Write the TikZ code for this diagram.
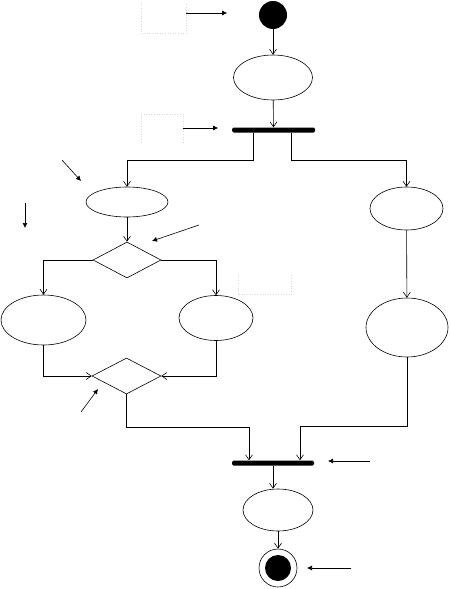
\documentclass[tikz,border=0pt]{standalone}
\usepackage{tikz}
\usetikzlibrary{calc, shapes.geometric, arrows.meta}
\tikzset{
    act/.style={draw, ellipse, line width=0.6pt, inner sep=0pt},
    dec/.style={draw, diamond, line width=0.6pt, inner sep=0pt},
    bar/.style={fill, rectangle, rounded corners=1.5pt, inner sep=0pt, minimum height=5pt},
    flow/.style={line width=0.6pt, -{Straight Barb[length=5pt, width=7pt]}},
    note/.style={line width=0.6pt, -{Latex[length=5pt, width=5pt]}},
    notebox/.style={inner sep=0pt},
    boxline/.style={draw=gray!30, dotted, line width=0.6pt}
}

\begin{document}
\begin{tikzpicture}[x=1pt, y=-1pt]
    \useasboundingbox (0,0) rectangle (450,589);
    % nodes of the activity
    \node[fill, circle, minimum size=28pt, inner sep=0pt] (start) at (273,15) {};
    \node[act, minimum width=79pt, minimum height=45pt] (act1) at (273,77.5) {};
    \node[bar, minimum width=83pt] (fork) at (273.5,130) {};
    \node[act, minimum width=82pt, minimum height=30pt] (act2) at (127,202) {};
    \node[act, minimum width=73pt, minimum height=43pt] (act3) at (406.5,208.5) {};
    \node[dec, minimum width=68pt, minimum height=36pt] (dec1) at (127,260) {};
    \node[act, minimum width=85pt, minimum height=50pt] (act4) at (43.5,320) {};
    \node[act, minimum width=74pt, minimum height=45pt] (act5) at (216,318) {};
    \node[act, minimum width=82pt, minimum height=59pt] (act6) at (407,327.5) {};
    \node[dec, minimum width=69pt, minimum height=36pt] (dec2) at (126.5,376) {};
    \node[bar, minimum width=82pt] (join) at (273,463) {};
    \node[act, minimum width=70pt, minimum height=42pt] (act7) at (278,510) {};
    \node[draw, circle, line width=0.6pt, minimum size=38pt, inner sep=0pt] (end) at (278,568) {};
    \fill (end.center) circle (13pt);

    % transitions
    \draw[flow] (start) -- (act1);
    \draw[flow] (act1) -- (fork);
    \draw[flow] ($(fork.south)+(-20.5,0)$) -- ++(0,28) -| (act2.north);
    \draw[flow] ($(fork.south)+(17.5,0)$) -- ++(0,28) -| (act3.north);
    \draw[flow] (act2) -- (dec1);
    \draw[flow] (dec1.west) -| (act4.north);
    \draw[flow] (dec1.east) -| (act5.north);
    \draw[flow] (act3) -- (act6);
    \draw[flow] (act4.south) |- (dec2.west);
    \draw[flow] (act5.south) |- (dec2.east);
    \draw[flow] (dec2.south) -- ++(0,33) -| ($(join.north)+(-24,0)$);
    \draw[flow] (act6.south) -- ++(0,69) -| ($(join.north)+(27,0)$);
    \draw[flow] (join) -- (act7.north -| join);
    \draw[flow] (act7) -- (end);

    % empty label boxes and pointers
    \node[notebox, minimum width=45pt, minimum height=30pt] (box1) at (163.5,18) {};
    \node[notebox, minimum width=42pt, minimum height=28pt] (box2) at (162,128) {};
    \node[notebox, minimum width=53pt, minimum height=19pt] (box3) at (264.5,284.5) {};
    \draw[boxline] (box1.north west) -- (box1.south west) -- (box1.south east) -- (box1.north east);
    \draw[boxline] (box2.south west) -- (box2.north west) -- (box2.north east) -- (box2.south east);
    \draw[boxline] (box3.north west) -- (box3.south west) -- (box3.south east) -- (box3.north east);
    \draw[note] (box1.east |- 0,13) -- ++(41,0);
    \draw[note] (box2.east) -- ++(35,0);
    \coordinate (p1) at (62,160);
    \coordinate (p2) at (25,203);
    \coordinate (p3) at (199,225);
    \coordinate (p4) at (81,412);
    \coordinate (p5) at (370,461);
    \coordinate (p6) at (351,568);
    \draw[note] (p1) -- ++(19,21);
    \draw[note] (p2) -- ++(0,25);
    \draw[note] (p3) -- ++(-47,16);
    \draw[note] (p4) -- ++(17,-23);
    \draw[note] (p5) -- ++(-42,0);
    \draw[note] (p6) -- ++(-44,0);
\end{tikzpicture}
\end{document}
